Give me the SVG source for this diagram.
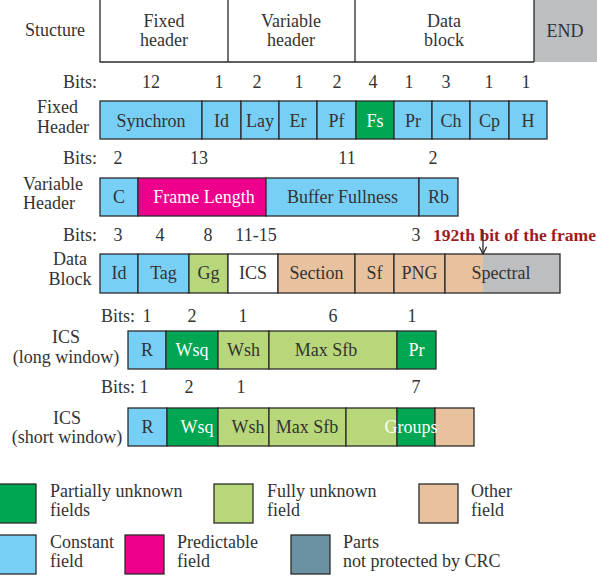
<svg xmlns="http://www.w3.org/2000/svg" width="597" height="579" viewBox="0 0 597 579">
<style>
text{font-family:"Liberation Serif","Times New Roman",serif;font-size:18px;fill:#333}
.m{text-anchor:middle}
.e{text-anchor:end}
.w{fill:#fff}
.red{fill:#9e1b1e;font-weight:bold;font-size:17.5px}
rect{stroke:#2b2b2b;stroke-width:1.3}
.b{fill:#78cff5}.g{fill:#00a651}.lg{fill:#b8d77a}.mg{fill:#ec008c}.t{fill:#e8c19e}.gr{fill:#bcbec0}.sl{fill:#6b92a3}.wh{fill:#fff}
.ln{stroke:#2b2b2b;stroke-width:1.3;fill:none}
</style>
<defs>
<marker id="ah" viewBox="0 0 10 10" refX="9" refY="5" markerWidth="7" markerHeight="7" orient="auto">
<path d="M1,1 L9,5 L1,9" fill="none" stroke="#2b2b2b" stroke-width="1.4"/>
</marker>
</defs>

<g id="structure">
<rect x="534" y="-2" width="66" height="64" class="gr" style="stroke:none"/>
<path class="ln" d="M100,0 V62 H534 M228,0 V62 M355,0 V62 M534,0 V62"/>
<text x="55" y="36" class="m">Stucture</text>
<text x="164" y="27" class="m">Fixed</text><text x="164" y="46" class="m">header</text>
<text x="291" y="27" class="m">Variable</text><text x="291" y="46" class="m">header</text>
<text x="444" y="27" class="m">Data</text><text x="444" y="46" class="m">block</text>
<text x="565" y="37" class="m">END</text>
</g>

<g id="fixed-header">
<text x="97" y="88" class="e">Bits:</text>
<text x="151" y="88" class="m">12</text><text x="219" y="88" class="m">1</text><text x="257" y="88" class="m">2</text><text x="299" y="88" class="m">1</text><text x="337" y="88" class="m">2</text><text x="373" y="88" class="m">4</text><text x="409" y="88" class="m">1</text><text x="446" y="88" class="m">3</text><text x="489" y="88" class="m">1</text><text x="526" y="88" class="m">1</text>
<text x="37" y="113">Fixed</text><text x="37" y="133">Header</text>
<rect x="100" y="101" width="102" height="38" class="b"/><text x="151" y="127" class="m">Synchron</text>
<rect x="202" y="101" width="39" height="38" class="b"/><text x="221.5" y="127" class="m">Id</text>
<rect x="241" y="101" width="38" height="38" class="b"/><text x="260" y="127" class="m">Lay</text>
<rect x="279" y="101" width="38" height="38" class="b"/><text x="298" y="127" class="m">Er</text>
<rect x="317" y="101" width="39" height="38" class="b"/><text x="336.5" y="127" class="m">Pf</text>
<rect x="356" y="101" width="38" height="38" class="g"/><text x="375" y="127" class="m w">Fs</text>
<rect x="394" y="101" width="38" height="38" class="b"/><text x="413" y="127" class="m">Pr</text>
<rect x="432" y="101" width="38" height="38" class="b"/><text x="451" y="127" class="m">Ch</text>
<rect x="470" y="101" width="39" height="38" class="b"/><text x="489.5" y="127" class="m">Cp</text>
<rect x="509" y="101" width="38" height="38" class="b"/><text x="528" y="127" class="m">H</text>
</g>

<g id="variable-header">
<text x="97" y="164" class="e">Bits:</text>
<text x="118" y="164" class="m">2</text><text x="199" y="164" class="m">13</text><text x="347" y="164" class="m">11</text><text x="433" y="164" class="m">2</text>
<text x="23" y="190">Variable</text><text x="23" y="209">Header</text>
<rect x="100" y="178" width="38" height="38" class="b"/><text x="119" y="203" class="m">C</text>
<rect x="138" y="178" width="128" height="38" class="mg"/><text x="204" y="203" class="m w">Frame Length</text>
<rect x="266" y="178" width="153" height="38" class="b"/><text x="342.5" y="203" class="m">Buffer Fullness</text>
<rect x="419" y="178" width="39" height="38" class="b"/><text x="438.5" y="203" class="m">Rb</text>
</g>

<g id="data-block">
<text x="97" y="241" class="e">Bits:</text>
<text x="118" y="241" class="m">3</text><text x="160" y="241" class="m">4</text><text x="208" y="241" class="m">8</text><text x="256" y="241" class="m">11-15</text><text x="416" y="241" class="m">3</text>
<text x="433" y="241" class="red" textLength="163" lengthAdjust="spacingAndGlyphs">192th bit of the frame</text>
<text x="70" y="265" class="m">Data</text><text x="70" y="285" class="m">Block</text>
<rect x="100" y="254" width="38" height="39" class="b"/><text x="119" y="279" class="m">Id</text>
<rect x="138" y="254" width="51" height="39" class="b"/><text x="163.5" y="279" class="m">Tag</text>
<rect x="189" y="254" width="39" height="39" class="lg"/><text x="208.5" y="279" class="m">Gg</text>
<rect x="228" y="254" width="50" height="39" class="wh"/><text x="253" y="279" class="m">ICS</text>
<rect x="278" y="254" width="77" height="39" class="t"/><text x="316.5" y="279" class="m">Section</text>
<rect x="355" y="254" width="39" height="39" class="t"/><text x="374.5" y="279" class="m">Sf</text>
<rect x="394" y="254" width="51" height="39" class="t"/><text x="419.5" y="279" class="m">PNG</text>
<rect x="445" y="254" width="38" height="39" class="t" style="stroke:none"/>
<rect x="483" y="254" width="77" height="39" class="gr" style="stroke:none"/>
<rect x="445" y="254" width="115" height="39" style="fill:none"/>
<text x="501" y="279" class="m">Spectral</text>
</g>

<g id="ics-long">
<text x="135" y="322" class="e">Bits:</text>
<text x="147" y="322" class="m">1</text><text x="192" y="322" class="m">2</text><text x="243" y="322" class="m">1</text><text x="333" y="322" class="m">6</text><text x="412" y="322" class="m">1</text>
<text x="66" y="343" class="m">ICS</text><text x="66" y="363" class="m">(long window)</text>
<rect x="128" y="331" width="38" height="38" class="b"/><text x="147" y="356" class="m">R</text>
<rect x="166" y="331" width="52" height="38" class="g"/><text x="192" y="356" class="m w">Wsq</text>
<rect x="218" y="331" width="51" height="38" class="lg"/><text x="243.5" y="356" class="m">Wsh</text>
<rect x="269" y="331" width="128" height="38" class="lg"/><text x="326" y="356" class="m">Max Sfb</text>
<rect x="397" y="331" width="39" height="38" class="g"/><text x="416.5" y="356" class="m w">Pr</text>
</g>

<g id="ics-short">
<text x="135" y="393" class="e">Bits:</text>
<text x="144" y="393" class="m">1</text><text x="189" y="393" class="m">2</text><text x="241" y="393" class="m">1</text><text x="416" y="393" class="m">7</text>
<text x="67" y="424" class="m">ICS</text><text x="67" y="443" class="m">(short window)</text>
<rect x="128" y="408" width="39" height="38" class="b"/><text x="147.5" y="433" class="m">R</text>
<rect x="167" y="408" width="51" height="38" class="g"/><text x="197" y="433" class="m w">Wsq</text>
<rect x="218" y="408" width="51" height="38" class="lg"/><text x="248" y="433" class="m">Wsh</text>
<rect x="269" y="408" width="77" height="38" class="lg"/><text x="307" y="433" class="m">Max Sfb</text>
<rect x="346" y="408" width="51" height="38" class="lg"/>
<rect x="397" y="408" width="38" height="38" class="g"/>
<rect x="435" y="408" width="39" height="38" class="t"/>
<text x="411" y="433" class="m w">Groups</text>
</g>

<g id="connectors">
<line x1="483" y1="230" x2="483" y2="254" class="ln" marker-end="url(#ah)"/>
</g>

<g id="legend">
<rect x="-3" y="484" width="39" height="39" class="g"/>
<text x="50" y="497">Partially unknown</text><text x="50" y="516">fields</text>
<rect x="214" y="484" width="39" height="39" class="lg"/>
<text x="267" y="497">Fully unknown</text><text x="267" y="516">field</text>
<rect x="419" y="484" width="39" height="39" class="t"/>
<text x="471" y="497">Other</text><text x="471" y="516">field</text>
<rect x="-3" y="535" width="39" height="39" class="b"/>
<text x="50" y="548">Constant</text><text x="50" y="567">field</text>
<rect x="125" y="535" width="39" height="39" class="mg"/>
<text x="177" y="548">Predictable</text><text x="177" y="567">field</text>
<rect x="291" y="535" width="39" height="39" class="sl"/>
<text x="343" y="548">Parts</text><text x="343" y="567">not protected by CRC</text>
</g>
</svg>
